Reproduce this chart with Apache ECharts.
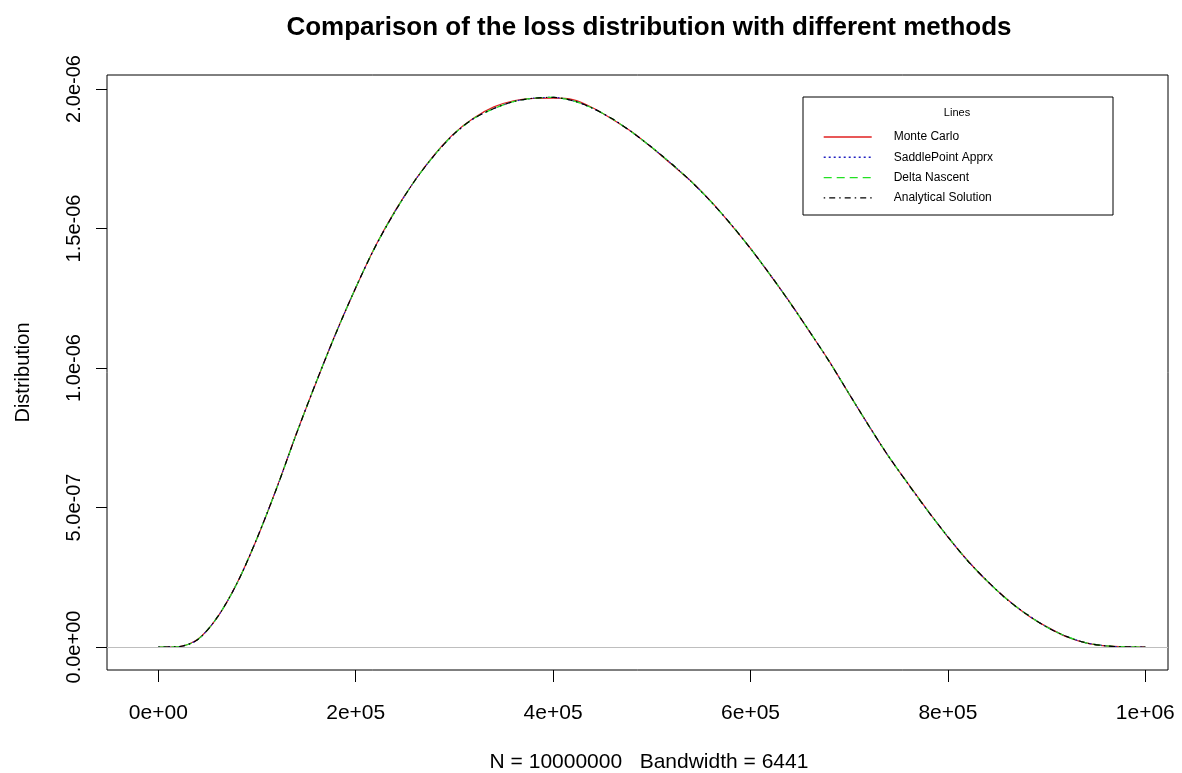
<!DOCTYPE html>
<html>
<head>
<meta charset="utf-8">
<script src="https://cdn.jsdelivr.net/npm/echarts@6/dist/echarts.min.js"></script>
<style>
html,body{margin:0;padding:0;background:#fff;}
#chart{width:1182px;height:773px;}
</style>
</head>
<body>
<div id="chart"></div>
<script>
// ---- data ----
const lossGrid = [0,20000,40000,60000,80000,100000,120000,140000,160000,180000,
  200000,220000,240000,260000,280000,300000,320000,340000,360000,380000,
  400000,420000,440000,460000,480000,500000,520000,540000,560000,580000,
  600000,620000,640000,660000,680000,700000,720000,740000,760000,780000,
  800000,820000,840000,860000,880000,900000,920000,940000,960000,980000,1000000];

const analytical = [0,0.001e-6,0.027e-6,0.108e-6,0.230e-6,0.390e-6,0.570e-6,0.765e-6,0.950e-6,1.125e-6,
  1.288e-6,1.436e-6,1.562e-6,1.672e-6,1.764e-6,1.840e-6,1.895e-6,1.930e-6,1.955e-6,1.967e-6,
  1.970e-6,1.958e-6,1.931e-6,1.893e-6,1.845e-6,1.791e-6,1.732e-6,1.668e-6,1.596e-6,1.516e-6,
  1.428e-6,1.334e-6,1.234e-6,1.130e-6,1.022e-6,0.907e-6,0.792e-6,0.683e-6,0.583e-6,0.486e-6,
  0.395e-6,0.309e-6,0.236e-6,0.170e-6,0.117e-6,0.072e-6,0.038e-6,0.015e-6,0.004e-6,0.0005e-6,0];

const monteCarlo = [0,0.001e-6,0.028e-6,0.107e-6,0.231e-6,0.389e-6,0.571e-6,0.766e-6,0.949e-6,1.126e-6,
  1.287e-6,1.437e-6,1.564e-6,1.673e-6,1.766e-6,1.842e-6,1.897e-6,1.936e-6,1.958e-6,1.966e-6,
  1.967e-6,1.962e-6,1.933e-6,1.892e-6,1.846e-6,1.790e-6,1.730e-6,1.669e-6,1.597e-6,1.515e-6,
  1.429e-6,1.333e-6,1.235e-6,1.129e-6,1.023e-6,0.906e-6,0.793e-6,0.682e-6,0.584e-6,0.487e-6,
  0.394e-6,0.310e-6,0.235e-6,0.171e-6,0.116e-6,0.073e-6,0.037e-6,0.015e-6,0.004e-6,0.0005e-6,0];

const saddlePoint = analytical.slice();
const deltaNascent = analytical.slice();

const seriesNames = ['Monte Carlo','SaddlePoint Apprx','Delta Nascent','Analytical Solution'];
const xTickValues = [0,200000,400000,600000,800000,1000000];
const xTickLabels = ['0e+00','2e+05','4e+05','6e+05','8e+05','1e+06'];
const yTickValues = [0,5e-7,1e-6,1.5e-6,2e-6];
const yTickLabels = ['0.0e+00','5.0e-07','1.0e-06','1.5e-06','2.0e-06'];
const titleText = 'Comparison of the loss distribution with different methods';
const xTitle = 'N = 10000000   Bandwidth = 6441';
const yTitle = 'Distribution';
const legendTitle = 'Lines';

// ---- chart ----
const FONT = '"Liberation Sans", Arial, sans-serif';
const pair = arr => lossGrid.map((x,i)=>[x, arr[i]]);
function lookup(vals, labels, v){
  let best = 0, bd = Infinity;
  vals.forEach((t,i)=>{ const d=Math.abs(t-v); if(d<bd){bd=d;best=i;} });
  return labels[best];
}

const chart = echarts.init(document.getElementById('chart'), null, {renderer:'canvas'});
const baseSeries = (name, data, color, type, extra) => Object.assign({
  name, type:'line', data: pair(data), showSymbol:false, symbol:'none', smooth:0.3,
  animation:false, silent:true,
  lineStyle:{color, width:1.2, type}, itemStyle:{color}
}, extra||{});

chart.setOption({
  backgroundColor:'#ffffff',
  animation:false,
  grid:{left:107, top:75, width:1061, height:595, containLabel:false, outerBoundsMode:'none',
        show:true, borderColor:'#000', borderWidth:1, backgroundColor:'transparent'},
  xAxis:{
    type:'value', min:-52000, max:1023000,
    axisLine:{show:false, onZero:false},
    splitLine:{show:false},
    axisTick:{show:true, length:12, customValues:xTickValues, lineStyle:{color:'#000', width:1}},
    axisLabel:{show:true, customValues:xTickValues, margin:33, color:'#000', fontFamily:FONT, fontSize:21,
      formatter:v=>lookup(xTickValues,xTickLabels,v)},
    name:xTitle, nameLocation:'middle', nameGap:82,
    nameTextStyle:{color:'#000', fontFamily:FONT, fontSize:21, padding:[0,0,0,23]}
  },
  yAxis:{
    type:'value', min:-0.0824e-6, max:2.0502e-6,
    axisLine:{show:false, onZero:false},
    splitLine:{show:false},
    axisTick:{show:true, length:11, customValues:yTickValues, lineStyle:{color:'#000', width:1}},
    axisLabel:{show:true, customValues:yTickValues, rotate:90, margin:23, color:'#000', fontFamily:FONT, fontSize:20,
      formatter:v=>lookup(yTickValues,yTickLabels,v)},
    name:yTitle, nameLocation:'middle', nameGap:74, nameRotate:90,
    nameTextStyle:{color:'#000', fontFamily:FONT, fontSize:20}
  },
  legend:{
    show:true, orient:'vertical', left:823, top:131, padding:0,
    itemWidth:48, itemHeight:10, itemGap:8.3,
    data:seriesNames,
    selectedMode:false,
    itemStyle:{opacity:0},
    lineStyle:{width:1.4},
    textStyle:{color:'#000', fontFamily:FONT, fontSize:12, padding:[0,0,0,17]},
    z:5
  },
  graphic:[
    {type:'rect', z:3, shape:{x:803, y:97, width:310, height:118},
     style:{fill:'#fff', stroke:'#000', lineWidth:1}},
    {type:'text', z:6, x:957, y:113,
     style:{text:legendTitle, font:'11px '+FONT, fill:'#000', textAlign:'center', textVerticalAlign:'middle'}},
    {type:'text', z:6, x:649, y:28,
     style:{text:titleText, font:'bold 26px '+FONT, fill:'#000', textAlign:'center', textVerticalAlign:'middle'}}
  ],
  series:[
    baseSeries(seriesNames[0], monteCarlo, '#e02020', 'solid', {
      markLine:{silent:true, symbol:['none','none'], animation:false, label:{show:false},
        lineStyle:{color:'#bebebe', type:'solid', width:1.2}, data:[{yAxis:0}]}
    }),
    baseSeries(seriesNames[1], saddlePoint, '#2020c0', [2,3]),
    baseSeries(seriesNames[2], deltaNascent, '#22e022', [8,5]),
    baseSeries(seriesNames[3], analytical, '#000000', [1.5,4,6,4])
  ]
});
</script>
</body>
</html>
